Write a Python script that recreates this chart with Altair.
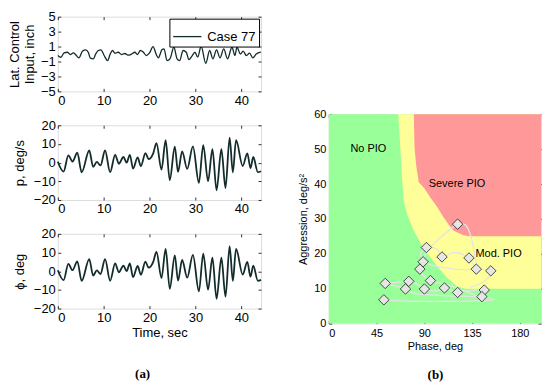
import altair as alt
import pandas as pd

# ---------------- (a) time histories, Case 77 ----------------
lat_time = [0, 0.65, 1.38, 2.1, 2.7, 3.4, 3.9, 4.6, 5.36, 6.08, 6.66, 7.1, 7.74, 8.25, 8.83, 9.4,
            10.1, 10.85, 11.43, 11.93, 12.45, 13.17, 13.9, 14.6, 15.3, 16.05, 16.8, 17.35, 18.0,
            18.65, 19.3, 20.0, 20.76, 21.48, 21.9, 22.7, 23.15, 23.8, 24.45, 25.3, 26.0, 26.55,
            27.3, 28.0, 28.57, 29.2, 29.9, 30.5, 31.24, 32.26, 33.1, 33.8, 34.6, 35.36, 36.16,
            37.0, 37.96, 38.6, 39.05, 39.8, 40.4, 41.1, 41.8, 42.5, 43.25, 44.25]
lat_input = [-0.2, -0.43, 0.16, 0.24, -0.07, 0.16, -0.09, -0.51, 0.38, 0.56, 0.2, -0.56, -0.64,
             0.0, 0.47, 0.56, -0.2, -0.87, 0.0, 0.47, 0.11, 0.24, -0.07, 0.07, -0.16, -0.02,
             0.24, -0.07, 0.47, 0.24, -0.2, 0.16, 1.0, -0.09, -0.51, 0.56, 0.69, -0.87, -0.64,
             0.91, -0.64, -0.87, 0.47, 0.24, -0.76, -0.31, 0.24, -0.42, 1.04, -1.25, 0.47,
             -0.64, 0.56, -0.51, 0.69, -0.64, 0.91, -0.2, 0.91, 0.0, 0.38, -0.2, 0.11, -0.51,
             0.0, 0.24]

p_time = [0, 1.25, 2.3, 3.2, 4.25, 5.2, 6.85, 7.7, 8.5, 9.3, 10.3, 11.4, 12.5, 13.3, 14.3, 15.0,
          15.7, 16.4, 17.4, 18.1, 19.1, 19.8, 20.8, 21.5, 22.6, 23.5, 24.4, 25.5, 26.2, 27.1,
          28.2, 29.45, 30.75, 31.7, 32.75, 33.7, 34.6, 35.65, 36.55, 37.45, 38.15, 38.85, 40.3,
          41.3, 42.0, 42.6, 43.6, 44.3]
p_rate = [0.5, -4.8, 3.9, 0.6, 5.3, -5.2, 6.5, -2.3, 0.4, -1.5, 6.5, -5.1, 4.2, -0.6, 3.0, 0.0,
          4.2, -3.2, 2.8, -1.9, 5.1, 1.9, 5.0, 10.4, -3.7, 12.0, -9.4, 8.5, -5.0, 6.0, -3.4,
          8.7, -10.8, 9.4, -9.9, 7.2, -14.8, 7.2, -13.6, 13.4, -5.2, 12.0, -1.8, 5.0, -2.9,
          3.0, -5.1, -4.6]

phi_time = [0, 1.25, 2.3, 3.2, 4.25, 5.2, 6.85, 7.7, 8.5, 9.3, 10.3, 11.4, 12.5, 13.3, 14.3, 15.0,
            15.7, 16.4, 17.4, 18.1, 19.1, 19.8, 20.8, 21.5, 22.6, 23.5, 24.4, 25.5, 26.2, 27.1,
            28.2, 29.45, 30.75, 31.7, 32.75, 33.7, 34.6, 35.65, 36.55, 37.45, 38.15, 38.85, 40.3,
            41.3, 42.0, 42.6, 43.6, 44.3]
phi_deg = [0.5, -4.8, 3.9, 0.6, 5.3, -5.2, 6.5, -2.3, 0.4, -1.5, 6.5, -5.1, 4.2, -0.6, 3.0, 0.0,
           4.2, -3.2, 2.8, -1.9, 5.1, 1.9, 5.0, 10.4, -3.7, 12.0, -9.4, 8.5, -5.0, 6.0, -3.4,
           8.7, -10.8, 9.4, -9.9, 7.2, -14.8, 7.2, -13.6, 13.4, -5.2, 12.0, -1.8, 5.0, -2.9,
           3.0, -5.1, -4.6]

time_ticks = [0, 10, 20, 30, 40]
lat_ticks = [-5, -3, -1, 1, 3, 5]
deg_ticks = [-20, -10, 0, 10, 20]
case_name = "Case 77"

# ---------------- (b) PIO boundaries ----------------
mod_bound_phase = [129, 121, 111.4, 103.6, 95.8, 88, 80.1, 73.9, 70.7, 69.2, 67.5, 65.4]
mod_bound_aggr = [10, 10.6, 13.2, 15.9, 18.9, 22.3, 26.6, 31.3, 35.1, 41, 50, 60]
sev_bound_phase = [132, 127, 117.7, 113, 108.3, 102, 95.8, 90, 84.8, 82.5, 80.8, 80.1]
sev_bound_aggr = [25, 25.3, 26.6, 28.3, 30.4, 33.5, 36.1, 38.8, 40.5, 45, 50.4, 60]

diamond_phase = [121.4, 92.0, 106.7, 132.1, 88.9, 85.8, 139.0, 152.7, 53.2, 75.4, 95.8, 72.3,
                 90.1, 109.0, 121.4, 146.5, 144.3, 51.9]
diamond_aggr = [28.5, 21.8, 19.1, 18.8, 17.7, 15.6, 15.6, 15.1, 11.5, 12.1, 12.3, 9.9, 9.9,
                10.2, 8.9, 9.6, 7.7, 6.8]

traj_phase = [51.9, 77, 117.7, 155.2, 145.8, 108.3, 80.1, 72.3, 58.2, 53.2, 64.5, 75.4, 83.3,
              90.1, 102.1, 109, 116.1, 121.4, 133.3, 146.5, 147.4, 144.3, 133.3, 114.6, 95.8,
              89.5, 85.8, 88.9, 86.4, 92, 102.1, 106.7, 117.7, 132.1, 139, 137.1, 133.3, 128.6,
              121.4, 114.6, 103.6, 94.2, 89.5, 117.7, 152.7, 147.4, 133.3]
traj_aggr = [6.8, 6.4, 6.4, 6.8, 7.5, 8.0, 8.7, 9.9, 11.1, 11.5, 11.8, 12.1, 11.3, 9.9, 9.4, 10.2,
             9.4, 8.9, 9.4, 9.6, 8.5, 7.7, 8.7, 10.9, 12.3, 13.7, 15.6, 17.7, 19.9, 21.8, 21.3,
             19.1, 20.4, 18.8, 15.6, 20.4, 25.6, 28.3, 28.5, 27, 24.2, 21.3, 18, 15.6, 15.1,
             12.3, 10.4]

region_names = ["No PIO", "Severe PIO", "Mod. PIO"]
region_phase = [37.3, 120.8, 160]
region_aggr = [50.1, 39.9, 19.9]

phase_ticks = [0, 45, 90, 135, 180]
aggr_ticks = [0, 10, 20, 30, 40, 50, 60]

FONT = "Liberation Sans"
INK = "#000000"
TRACE = "#132b2b"
GREEN = "#99FF99"
YELLOW = "#FFFF99"
RED = "#FF9999"


def tick_axis(orient, values, size, **kw):
    base = dict(orient=orient, values=values, offset=-3, tickSize=3, tickColor=INK,
                tickWidth=0.8, domain=False, grid=False, labelFont=FONT, labelFontSize=size,
                labelColor=INK, titleFont=FONT, titleFontSize=size, titleColor=INK,
                titleFontWeight="normal")
    base.update(kw)
    return alt.Axis(**base)


def time_panel(times, values, ytitle, ydom, yvals, ypad, xtitle=None, width_px=1.8,
               legend=False):
    df = pd.DataFrame({"t": times, "v": values, "s": [case_name] * len(times)})
    xs = alt.Scale(domain=[0, 44.3], nice=False, zero=False)
    ys = alt.Scale(domain=ydom, nice=False, zero=False)
    xkw = dict(labelPadding=3, format="d")
    if xtitle is not None:
        xkw.update(title=xtitle, titlePadding=2)
    else:
        xkw.update(title=None)
    enc = dict(
        x=alt.X("t:Q", scale=xs, axis=tick_axis("bottom", time_ticks, 13, **xkw)),
        y=alt.Y("v:Q", scale=ys, axis=tick_axis("left", yvals, 13, title=ytitle,
                                                 labelPadding=2.5, titlePadding=ypad,
                                                 format="d")),
    )
    if legend:
        enc["color"] = alt.Color(
            "s:N", scale=alt.Scale(range=[TRACE]),
            legend=alt.Legend(orient="top-right", title=None, symbolType="stroke",
                              symbolSize=800, symbolStrokeWidth=1.3, labelFont=FONT,
                              labelFontSize=13, labelColor=INK, strokeColor=INK,
                              fillColor="white", padding=3, offset=2, labelOffset=5))
        line = alt.Chart(df).mark_line(strokeWidth=width_px, interpolate="monotone").encode(**enc)
    else:
        line = alt.Chart(df).mark_line(color=TRACE, strokeWidth=width_px,
                                       interpolate="monotone").encode(**enc)
    ghost = alt.Chart(df).mark_line(opacity=0).encode(
        x=alt.X("t:Q", scale=xs, axis=tick_axis("top", time_ticks, 13, labels=False, title=None)),
        y=alt.Y("v:Q", scale=ys, axis=tick_axis("right", yvals, 13, labels=False, title=None)),
    )
    return alt.layer(line, ghost).properties(width=204, height=75)


p1 = time_panel(lat_time, lat_input, ["Lat. Control", "Input, inch"], [-5, 5], lat_ticks, 4,
                width_px=1.3, legend=True)
p2 = time_panel(p_time, p_rate, "p, deg/s", [-20, 20], deg_ticks, 6.5)
p3 = time_panel(phi_time, phi_deg, "\u03d5, deg", [-20, 20], deg_ticks, 6.5, xtitle="Time, sec")

left = alt.vconcat(p1, p2, p3, spacing=10).properties(
    title=alt.TitleParams("(a)", orient="bottom", anchor="middle", font="Liberation Serif",
                          fontSize=13, fontWeight="bold", color=INK, offset=28, dx=6)
).resolve_legend(color="independent")

# ---------------- right panel ----------------
px = alt.Scale(domain=[0, 200], nice=False, zero=False)
py = alt.Scale(domain=[0, 60], nice=False, zero=False)

bg_df = pd.DataFrame({"phase": [0], "phase_end": [200], "aggr": [0], "aggr_end": [60]})
bg = alt.Chart(bg_df).mark_rect(color=GREEN).encode(
    x=alt.X("phase:Q", scale=px, axis=tick_axis("bottom", phase_ticks, 11, title="Phase, deg",
                                                labelPadding=4, titlePadding=2)),
    x2="phase_end:Q",
    y=alt.Y("aggr:Q", scale=py, axis=tick_axis("left", aggr_ticks, 11,
                                               title="Aggression, deg/s\u00b2",
                                               labelPadding=3, titlePadding=5)),
    y2="aggr_end:Q",
)

mod_df = pd.DataFrame({"phase": mod_bound_phase, "aggr": mod_bound_aggr})
mod = alt.Chart(mod_df).mark_area(orient="horizontal", color=YELLOW).encode(
    y=alt.Y("aggr:Q", scale=py, axis=None),
    x=alt.X("phase:Q", scale=px, axis=None),
    x2=alt.datum(200),
)
sev_df = pd.DataFrame({"phase": sev_bound_phase, "aggr": sev_bound_aggr})
sev = alt.Chart(sev_df).mark_area(orient="horizontal", color=RED).encode(
    y=alt.Y("aggr:Q", scale=py, axis=None),
    x=alt.X("phase:Q", scale=px, axis=None),
    x2=alt.datum(200),
)

traj_df = pd.DataFrame({"phase": traj_phase, "aggr": traj_aggr, "i": list(range(len(traj_phase)))})
traj = alt.Chart(traj_df).mark_line(color="#e4e4e4", strokeWidth=1.3,
                                    interpolate="catmull-rom").encode(
    x=alt.X("phase:Q", scale=px, axis=None),
    y=alt.Y("aggr:Q", scale=py, axis=None),
    order="i:Q",
)

lab_df = pd.DataFrame({"phase": region_phase, "aggr": region_aggr, "name": region_names})
labels = alt.Chart(lab_df).mark_text(font=FONT, fontSize=11, color=INK, align="center",
                                     baseline="middle").encode(
    x=alt.X("phase:Q", scale=px, axis=None),
    y=alt.Y("aggr:Q", scale=py, axis=None),
    text="name:N",
)

dia_df = pd.DataFrame({"phase": diamond_phase, "aggr": diamond_aggr})
dias = alt.Chart(dia_df).mark_point(shape="diamond", filled=True, fill="#e6e6e6", stroke="#222222",
                                    strokeWidth=0.8, size=110, opacity=1).encode(
    x=alt.X("phase:Q", scale=px, axis=None),
    y=alt.Y("aggr:Q", scale=py, axis=None),
)

ghost_r = alt.Chart(dia_df).mark_point(opacity=0).encode(
    x=alt.X("phase:Q", scale=px, axis=tick_axis("top", phase_ticks, 11, labels=False, title=None)),
    y=alt.Y("aggr:Q", scale=py, axis=tick_axis("right", aggr_ticks, 11, labels=False, title=None)),
)

right = alt.layer(bg, mod, sev, traj, labels, dias, ghost_r).properties(width=213, height=210)

spacer = alt.Chart(pd.DataFrame({"v": [0]})).mark_point(opacity=0).encode(
    x=alt.X("v:Q", axis=None), y=alt.Y("v:Q", axis=None)
).properties(width=213, height=90, view=alt.ViewBackground(stroke="transparent"))

right_col = alt.vconcat(spacer, right, spacing=0).properties(
    title=alt.TitleParams("(b)", orient="bottom", anchor="middle", font="Liberation Serif",
                          fontSize=13, fontWeight="bold", color=INK, offset=17, dx=16))

chart = alt.hconcat(left, right_col, spacing=31).properties(
    padding={"top": 1, "left": 0, "right": 0, "bottom": 0}
).resolve_legend(color="independent").configure_view(stroke=INK, strokeWidth=1).configure(
    background="white")

chart.save("out.html", embed_options={"renderer": "svg", "actions": False})
